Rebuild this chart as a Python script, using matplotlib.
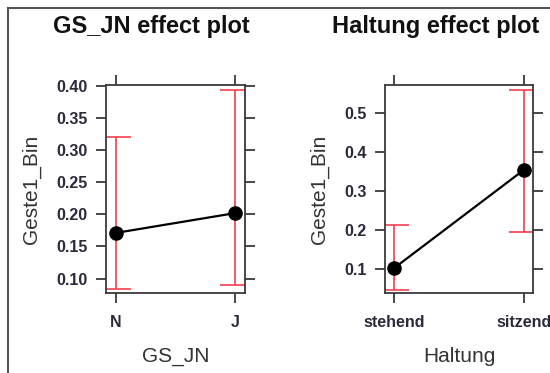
import matplotlib
matplotlib.use("Agg")
import matplotlib.pyplot as plt
from matplotlib.lines import Line2D

plt.rcParams['font.family'] = ['Liberation Sans', 'DejaVu Sans']

# effect estimates with lower / upper confidence limits
gs_levels = ['N', 'J']
gs_fit = [0.171, 0.202]
gs_lower = [0.083, 0.090]
gs_upper = [0.321, 0.394]

haltung_levels = ['stehend', 'sitzend']
haltung_fit = [0.103, 0.355]
haltung_lower = [0.047, 0.195]
haltung_upper = [0.214, 0.560]

gs_yticks = [0.10, 0.15, 0.20, 0.25, 0.30, 0.35, 0.40]
haltung_yticks = [0.1, 0.2, 0.3, 0.4, 0.5]

spine_col = '#3a3a3a'
err_col = '#f2404e'

fig = plt.figure(figsize=(5.5, 3.73), dpi=100)
W, H = 550, 373


def px_axes(x0, y0, x1, y1):
    # axes placed by pixel box (top-left origin)
    return fig.add_axes([x0 / W, 1 - y1 / H, (x1 - x0) / W, (y1 - y0) / H])


def effect_panel(ax, levels, fit, lower, upper, yticks, fmt, ylim, xlim, cap):
    pos = list(range(1, len(levels) + 1))
    # confidence bars with caps, clipped by the panel box
    ax.vlines(pos, lower, upper, color=err_col, lw=1.2, zorder=2)
    left = [p - cap for p in pos]
    right = [p + cap for p in pos]
    ax.hlines(lower, left, right, color=err_col, lw=1.2, zorder=2)
    ax.hlines(upper, left, right, color=err_col, lw=1.2, zorder=2)
    ax.plot(pos, fit, color='black', lw=1.6, marker='o', ms=9.5, zorder=3)
    ax.set_xlim(*xlim)
    ax.set_ylim(*ylim)
    ax.set_xticks(pos)
    ax.set_xticklabels(levels)
    ax.set_yticks(yticks)
    ax.set_yticklabels([fmt.format(t) for t in yticks])
    ax.tick_params(axis='both', direction='out', length=7, width=1.3,
                   color=spine_col, labelsize=11.5, labelcolor='#2a2a3a',
                   top=True, right=True, labeltop=False, labelright=False)
    ax.tick_params(axis='y', pad=6)
    ax.tick_params(axis='x', pad=9)
    for lab in ax.get_xticklabels() + ax.get_yticklabels():
        lab.set_fontweight('bold')
    for sp in ax.spines.values():
        sp.set_color(spine_col)
        sp.set_linewidth(1.3)
    ax.set_ylabel('Geste1_Bin', fontsize=15, color='#333333', labelpad=11)


ax1 = px_axes(106, 85, 245, 293)
effect_panel(ax1, gs_levels, gs_fit, gs_lower, gs_upper, gs_yticks, '{:.2f}',
             (0.0774, 0.4016), (0.92, 2.08), 0.125)
ax1.set_xlabel('GS_JN', fontsize=15, color='#333333', labelpad=12)

ax2 = px_axes(385, 85, 533, 293)
effect_panel(ax2, haltung_levels, haltung_fit, haltung_lower, haltung_upper,
             haltung_yticks, '{:.1f}', (0.0392, 0.5726), (0.93, 2.07), 0.115)
ax2.set_xlabel('Haltung', fontsize=15, color='#333333', labelpad=12)

fig.text(151 / W, 1 - 27 / H, 'GS_JN effect plot', ha='center', va='center',
         fontsize=17, fontweight='bold', color='#111111')
fig.text(436 / W, 1 - 27 / H, 'Haltung effect plot', ha='center', va='center',
         fontsize=17, fontweight='bold', color='#111111')

# outer frame, left and top edges
fig.add_artist(Line2D([8 / W, 8 / W], [0, 1 - 8 / H], transform=fig.transFigure,
                      color='#555555', lw=1.5))
fig.add_artist(Line2D([8 / W, 1], [1 - 8 / H, 1 - 8 / H], transform=fig.transFigure,
                      color='#555555', lw=1.5))

fig.savefig('out.png', dpi=100)
